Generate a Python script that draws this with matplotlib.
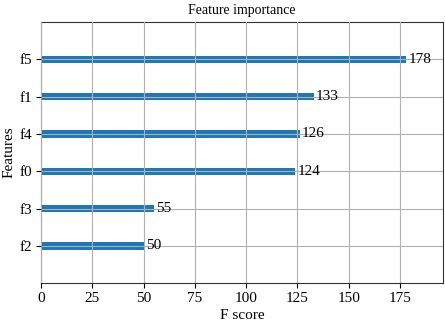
import matplotlib
matplotlib.use("Agg")
import matplotlib.pyplot as plt

features = ["f2", "f3", "f0", "f4", "f1", "f5"]
scores = [50, 55, 124, 126, 133, 178]

plt.rcParams['font.family'] = ['Liberation Serif', 'DejaVu Serif']
plt.rcParams['font.size'] = 11

fig = plt.figure(figsize=(4.45, 3.21), dpi=100)
ax = fig.add_axes([0.092, 0.118, 0.903, 0.813])

ylocs = list(range(len(scores)))
ax.barh(ylocs, scores, align='center', height=0.2, color='#1f77b4')
for x, y in zip(scores, ylocs):
    ax.text(x + 1, y, str(x), va='center')

ax.set_yticks(ylocs)
ax.set_yticklabels(features)
ax.set_xlim(0, max(scores) * 1.1)
ax.set_ylim(-1, len(scores))
ax.grid(True)
ax.set_axisbelow(False)
ax.tick_params(axis='x', pad=3)
ax.tick_params(axis='y', pad=2.5)
for s in ax.spines.values():
    s.set_color('#333333')
ax.set_title("Feature importance", fontsize=10, pad=6)
ax.set_xlabel("F score", labelpad=2.5)
ax.set_ylabel("Features", labelpad=3)

fig.savefig("out.png", dpi=100)
